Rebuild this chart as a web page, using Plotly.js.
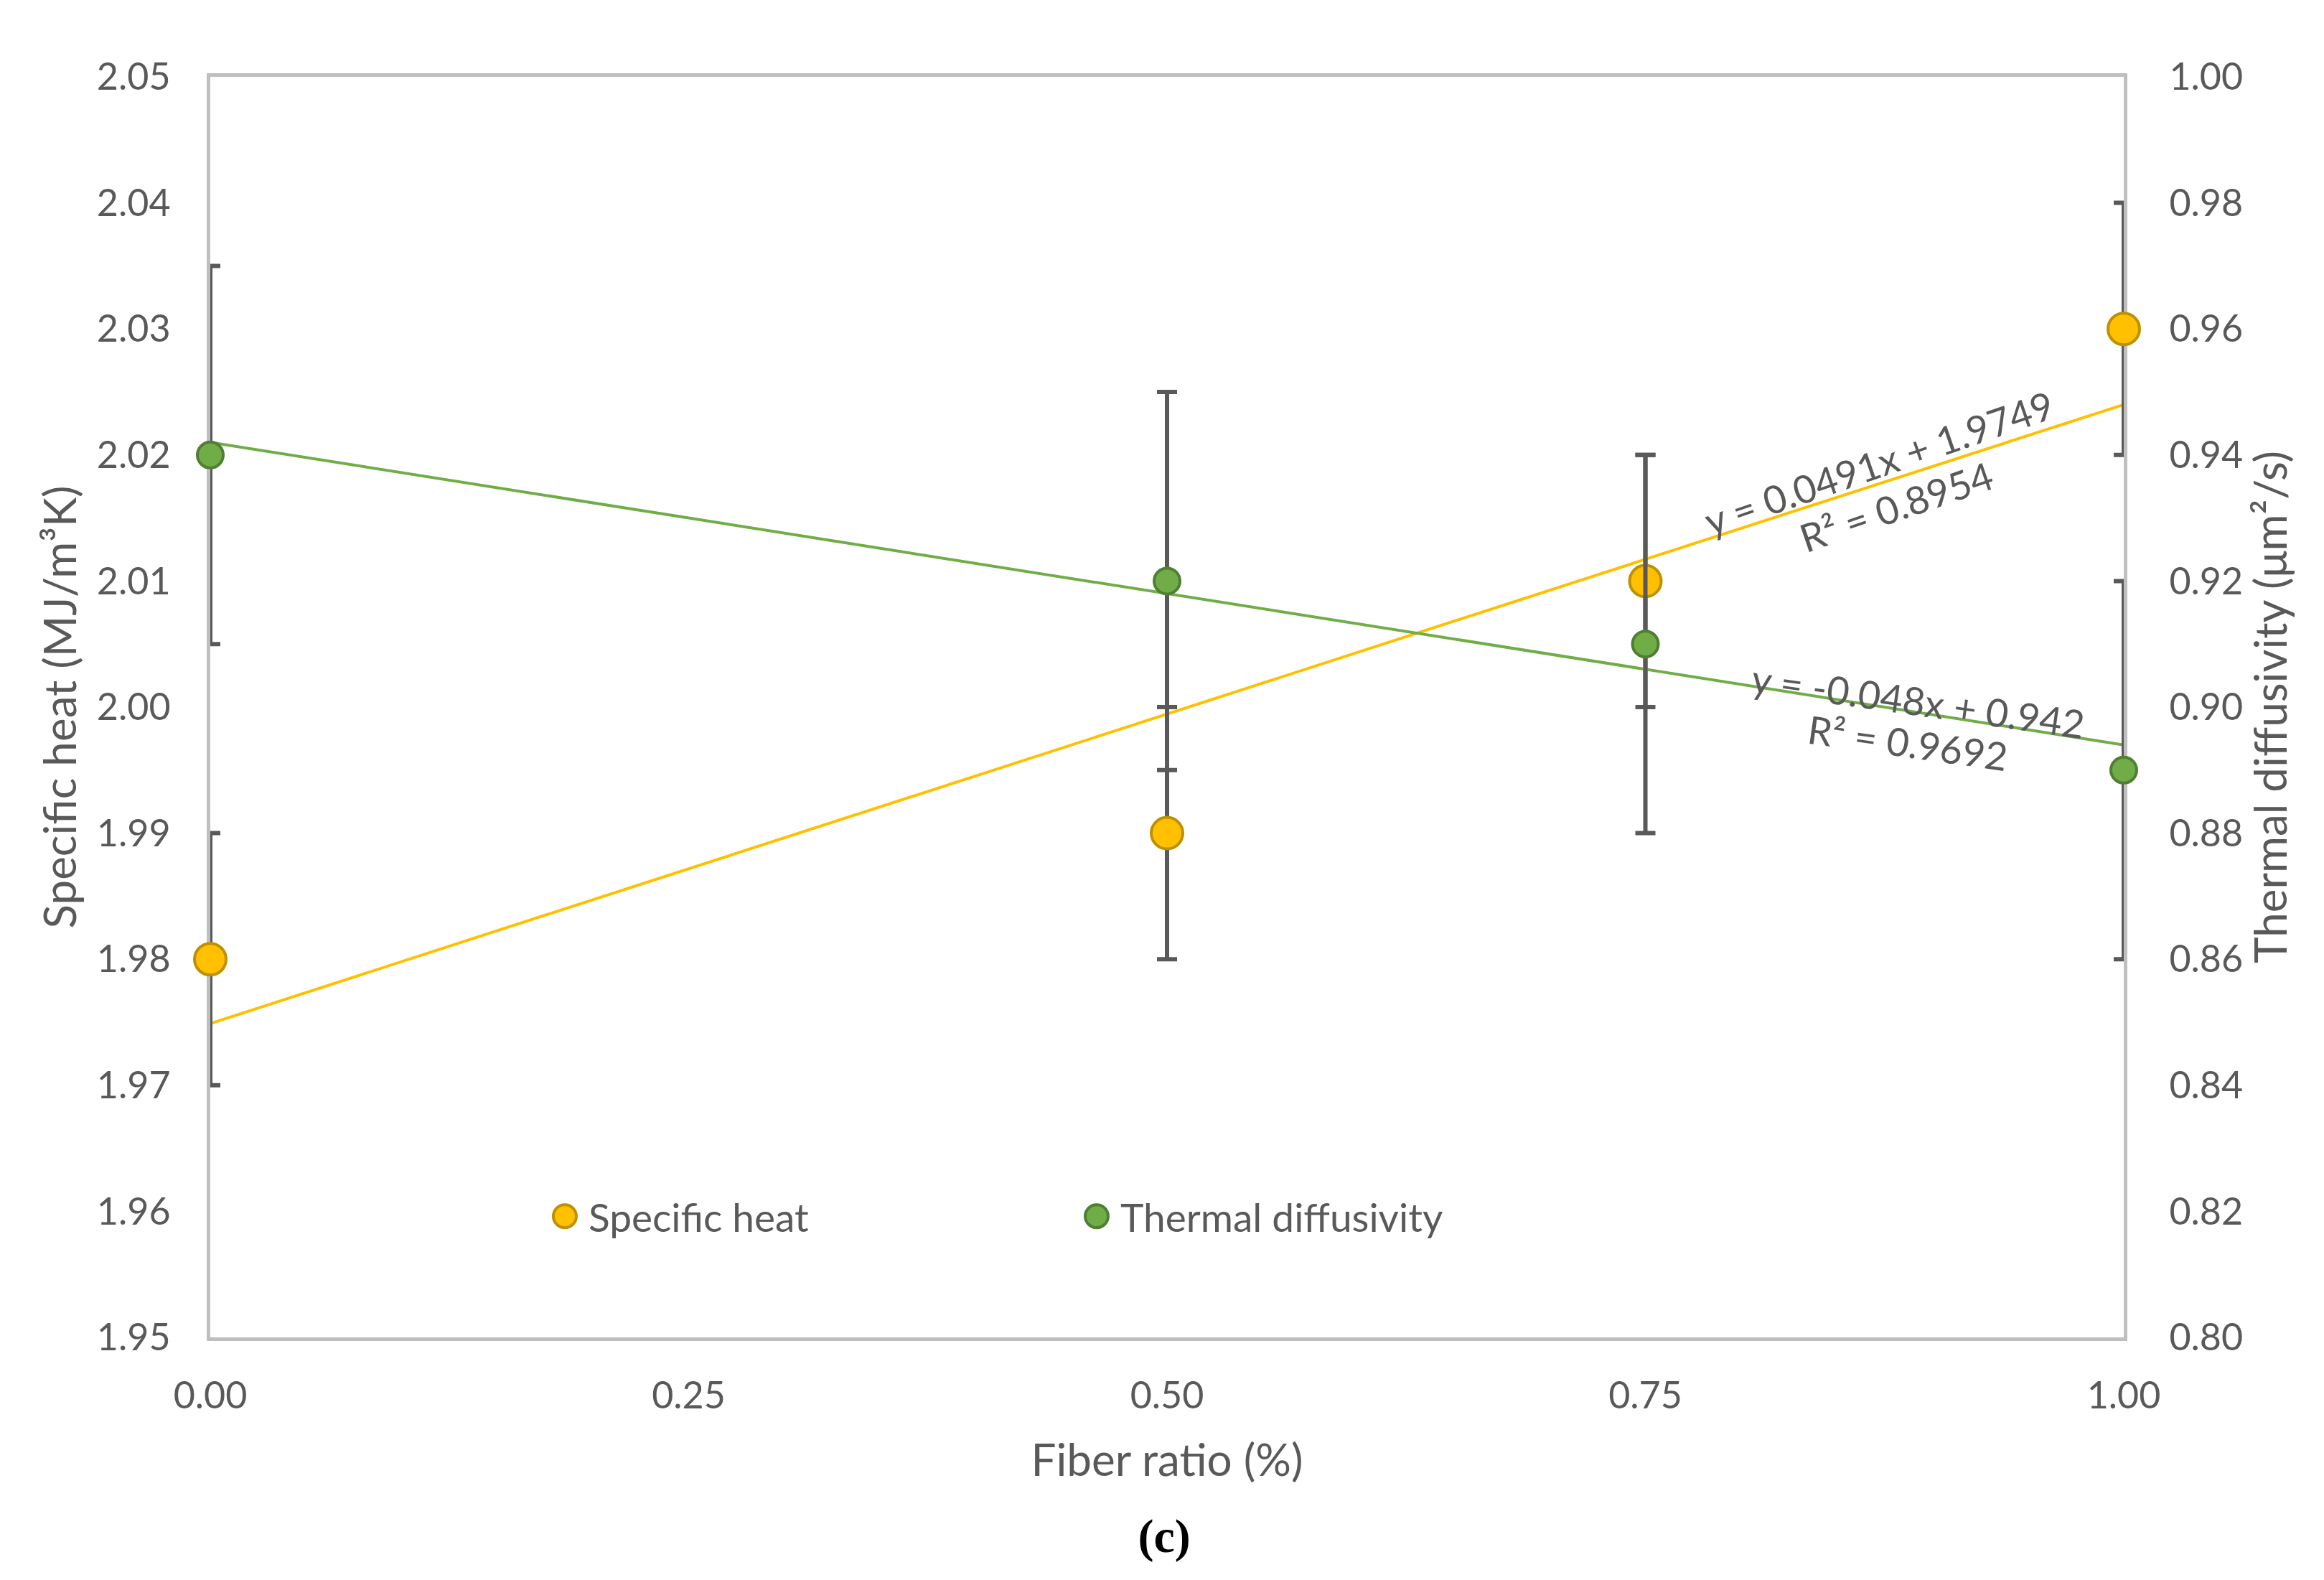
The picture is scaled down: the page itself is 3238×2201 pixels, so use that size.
<!DOCTYPE html>
<html>
<head>
<meta charset="utf-8">
<script src="https://cdn.plot.ly/plotly-3.0.1.min.js"></script>
<style>
  html, body { margin: 0; padding: 0; background: #fff; }
  #chart { width: 3238px; height: 2201px; }
  #chart .legendpoints path.scatterpts { vector-effect: non-scaling-stroke; }
</style>
</head>
<body>
<div id="chart"></div>
<script>
// data
var fiberRatio = [0, 0.5, 0.75, 1.0];
var specificHeat = [1.98, 1.99, 2.01, 2.03];
var specificHeatErr = [0.01, 0.01, 0.01, 0.01];
var thermalDiff = [0.94, 0.92, 0.91, 0.89];
var thermalDiffErr = [0.03, 0.03, 0.03, 0.03];

// linear trendlines (end points from the printed equations)
var trendX = [0, 1];
var specificHeatTrend = [1.9749, 2.024];
var thermalDiffTrend = [0.942, 0.894];

// ticks
var xTicks = [0, 0.25, 0.5, 0.75, 1.0];
var xTickText = ["0.00", "0.25", "0.50", "0.75", "1.00"];
var yTicks = [1.95, 1.96, 1.97, 1.98, 1.99, 2.0, 2.01, 2.02, 2.03, 2.04, 2.05];
var yTickText = ["1.95", "1.96", "1.97", "1.98", "1.99", "2.00", "2.01", "2.02", "2.03", "2.04", "2.05"];
var y2Ticks = [0.8, 0.82, 0.84, 0.86, 0.88, 0.9, 0.92, 0.94, 0.96, 0.98, 1.0];
var y2TickText = ["0.80", "0.82", "0.84", "0.86", "0.88", "0.90", "0.92", "0.94", "0.96", "0.98", "1.00"];

var colors = {
  orange: "#FFC000",
  orangeEdge: "#BF9000",
  green: "#70AD47",
  greenEdge: "#507E32",
  errBar: "#595959",
  axis: "#BFBFBF",
  text: "#595959",
};

var FONT = "Lato, 'Open Sans', sans-serif";

var traceTrendSH = {
  type: "scatter",
  x: trendX,
  y: specificHeatTrend,
  mode: "lines",
  line: { color: colors.orange, width: 4 },
  showlegend: false,
  hoverinfo: "skip",
};

var traceTrendTD = {
  type: "scatter",
  x: trendX,
  y: thermalDiffTrend,
  yaxis: "y2",
  mode: "lines",
  line: { color: colors.green, width: 4 },
  showlegend: false,
  hoverinfo: "skip",
};

// error bars on their own traces so the caps get clipped at the plot edge like in Excel
var traceErrSH = {
  type: "scatter",
  x: fiberRatio,
  y: specificHeat,
  mode: "markers",
  marker: { size: 1, color: "rgba(0,0,0,0)" },
  error_y: { type: "data", array: specificHeatErr, visible: true, color: colors.errBar, thickness: 6, width: 14 },
  cliponaxis: true,
  showlegend: false,
  hoverinfo: "skip",
};

var traceErrTD = {
  type: "scatter",
  x: fiberRatio,
  y: thermalDiff,
  yaxis: "y2",
  mode: "markers",
  marker: { size: 1, color: "rgba(0,0,0,0)" },
  error_y: { type: "data", array: thermalDiffErr, visible: true, color: colors.errBar, thickness: 6, width: 14 },
  cliponaxis: true,
  showlegend: false,
  hoverinfo: "skip",
};

var traceSH = {
  type: "scatter",
  x: fiberRatio,
  y: specificHeat,
  mode: "markers",
  name: "Specific heat",
  marker: { size: 44, color: colors.orange, line: { color: colors.orangeEdge, width: 4 } },
  cliponaxis: false,
};

var traceTD = {
  type: "scatter",
  x: fiberRatio,
  y: thermalDiff,
  yaxis: "y2",
  mode: "markers",
  name: "Thermal diffusivity",
  marker: { size: 36, color: colors.green, line: { color: colors.greenEdge, width: 4 } },
  cliponaxis: false,
};

var tickFont = { family: FONT, size: 52, color: colors.text };
var titleFont = { family: FONT, size: 62, color: colors.text };
var eqFont = { family: FONT, size: 54, color: colors.text };

var layout = {
  width: 3238,
  height: 2201,
  margin: { l: 293, r: 279, t: 107, b: 338, pad: 0 },
  paper_bgcolor: "#ffffff",
  plot_bgcolor: "#ffffff",
  font: { family: FONT, color: colors.text },
  title: {
    text: "<b>(c)</b>",
    font: { family: "'Liberation Serif', 'DejaVu Serif', serif", size: 66, color: "#000000" },
    xref: "container",
    yref: "container",
    x: 0.501,
    xanchor: "center",
    y: 0.028,
    yanchor: "middle",
  },
  showlegend: true,
  legend: {
    orientation: "h",
    x: 0.1729,
    xanchor: "left",
    y: 0.096,
    yanchor: "middle",
    bgcolor: "rgba(0,0,0,0)",
    font: { family: FONT, size: 55, color: colors.text },
    itemwidth: 56,
    entrywidth: 670,
    entrywidthmode: "pixels",
  },
  xaxis: {
    range: [0, 1],
    tickvals: xTicks,
    ticktext: xTickText,
    ticks: "",
    ticklabelstandoff: 32,
    tickfont: tickFont,
    title: { text: "Fiber ratio (%)", font: titleFont, standoff: 42 },
    showgrid: false,
    zeroline: false,
    showline: true,
    mirror: true,
    linecolor: colors.axis,
    linewidth: 5,
    layer: "below traces",
    fixedrange: true,
  },
  yaxis: {
    range: [1.95, 2.05],
    tickvals: yTicks,
    ticktext: yTickText,
    ticks: "",
    ticklabelstandoff: 40,
    tickfont: tickFont,
    title: { text: "Specific heat (MJ/m³K)", font: titleFont, standoff: 10 },
    showgrid: false,
    zeroline: false,
    showline: true,
    linecolor: colors.axis,
    linewidth: 5,
    layer: "below traces",
    fixedrange: true,
  },
  yaxis2: {
    range: [0.8, 1.0],
    tickvals: y2Ticks,
    ticktext: y2TickText,
    overlaying: "y",
    side: "right",
    ticks: "",
    ticklabelstandoff: 48,
    tickfont: tickFont,
    title: { text: "Thermal diffusivity (μm²/s)", font: titleFont, standoff: 20 },
    showgrid: false,
    zeroline: false,
    showline: true,
    linecolor: colors.axis,
    linewidth: 5,
    layer: "below traces",
    fixedrange: true,
  },
  annotations: [
    // trendline labels
    {
      text: "y = 0.0491x + 1.9749",
      xref: "paper", yref: "paper", x: 0.872, y: 0.694,
      xanchor: "center", yanchor: "middle", textangle: -19,
      showarrow: false, font: eqFont,
    },
    {
      text: "R² = 0.8954",
      xref: "paper", yref: "paper", x: 0.881, y: 0.659,
      xanchor: "center", yanchor: "middle", textangle: -19,
      showarrow: false, font: eqFont,
    },
    {
      text: "y = -0.048x + 0.942",
      xref: "paper", yref: "paper", x: 0.8926, y: 0.505,
      xanchor: "center", yanchor: "middle", textangle: 8,
      showarrow: false, font: eqFont,
    },
    {
      text: "R² = 0.9692",
      xref: "paper", yref: "paper", x: 0.887, y: 0.472,
      xanchor: "center", yanchor: "middle", textangle: 8,
      showarrow: false, font: eqFont,
    },
  ],
};

var config = { staticPlot: true, displayModeBar: false, responsive: false };

Plotly.newPlot("chart", [traceTrendSH, traceTrendTD, traceErrSH, traceErrTD, traceSH, traceTD], layout, config).then(function (gd) {
  // plotly caps legend symbols at 16px, Excel draws them about twice that
  gd.querySelectorAll(".legendpoints path.scatterpts").forEach(function (p) {
    p.setAttribute("transform", (p.getAttribute("transform") || "") + " scale(2)");
  });
});
</script>
</body>
</html>
